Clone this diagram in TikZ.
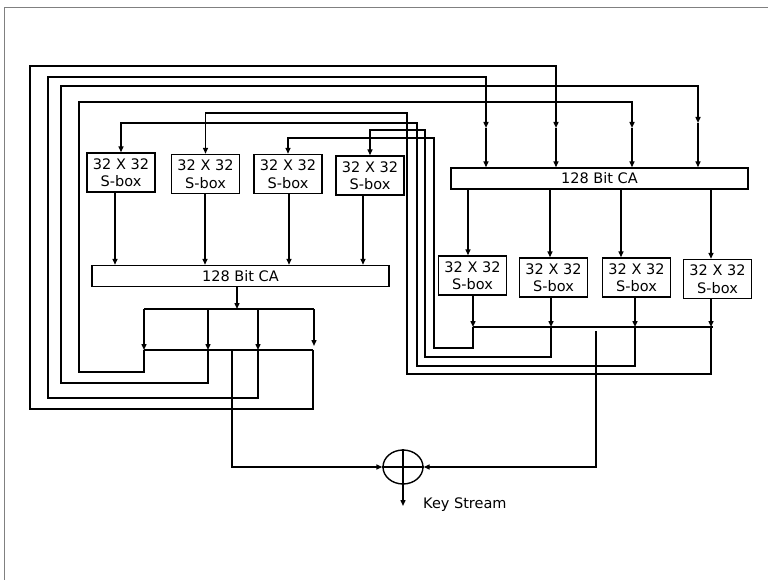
\documentclass[tikz,border=0pt]{standalone}
\usepackage{fontspec}
\setmainfont{DejaVu Sans}
\usetikzlibrary{arrows.meta,shapes.geometric}
\begin{document}
\begin{tikzpicture}[x=1pt,y=-1pt,
  wire/.style={line width=1.4pt},
  arr/.style={wire,-{Triangle[length=6pt,width=5pt]}},
  sbox/.style={draw,line width=1.4pt,minimum width=68pt,minimum height=39pt,inner sep=0pt,align=center,font=\fontsize{14.5}{17.5}\selectfont},
  cabox/.style={draw,line width=1.4pt,minimum width=297pt,minimum height=21pt,inner sep=0pt,font=\fontsize{14.5}{16}\selectfont},
  frame/.style={draw=gray,line width=0.8pt}]
\useasboundingbox (0,0) rectangle (768,580);
\draw[frame] (4.5,600) -- (4.5,7) -- (790,7);
% left S-boxes
\node[sbox] (L1) at (121,172.5) {32 X 32\\S-box};
\node[sbox] (L2) at (205.5,174) {32 X 32\\S-box};
\node[sbox] (L3) at (288,174) {32 X 32\\S-box};
\node[sbox] (L4) at (370,175.5) {32 X 32\\S-box};
% CAs
\node[cabox] (LCA) at (240.5,276) {128 Bit CA};
\node[cabox] (RCA) at (599.5,178.5) {128 Bit CA};
% right S-boxes
\node[sbox] (R1) at (472.5,275.5) {32 X 32\\S-box};
\node[sbox] (R2) at (553.5,277.5) {32 X 32\\S-box};
\node[sbox] (R3) at (636.5,277.5) {32 X 32\\S-box};
\node[sbox] (R4) at (717.5,279) {32 X 32\\S-box};
% XOR
\node[ellipse,draw,line width=1.4pt,minimum width=40pt,minimum height=34pt,inner sep=0pt] (X) at (403,467) {};
\draw[wire] (X.north) -- (X.south) (X.west) -- (X.east);
\coordinate (ks) at (403,506);
\draw[arr] (X.south) -- (ks);
\node[anchor=west,inner sep=0pt,font=\fontsize{14.5}{16}\selectfont] (kst) at (423,505) {Key Stream};
% left S-box outputs into left CA
\coordinate (l1) at (115,0);
\coordinate (l2) at (205,0);
\coordinate (l3) at (289,0);
\coordinate (l4) at (363,0);
\draw[arr] (L1.south -| l1) -- (LCA.north -| l1);
\draw[arr] (L2.south -| l2) -- (LCA.north -| l2);
\draw[arr] (L3.south -| l3) -- (LCA.north -| l3);
\draw[arr] (L4.south -| l4) -- (LCA.north -| l4);
% distributor under left CA
\coordinate (d0) at (237,309);
\draw[arr] (LCA.south -| d0) -- (d0);
\coordinate (b1) at (144,309);
\coordinate (b2) at (208,309);
\coordinate (b3) at (258,309);
\coordinate (b4) at (314,309);
\coordinate (m1) at (144,350);
\coordinate (m2) at (208,350);
\coordinate (m3) at (258,350);
\coordinate (m4) at (313,350);
\draw[wire] (b1) -- (b4);
\draw[arr] (b1) -- (m1);
\draw[arr] (b2) -- (m2);
\draw[arr] (b3) -- (m3);
\draw[arr] (b4) -- (314,346);
\draw[wire] (m1) -- (m4);
% feedback from left to right CA
\coordinate (q1) at (486,128);
\coordinate (q2) at (556,128);
\coordinate (q3) at (632,128);
\coordinate (q4) at (698,123);
\draw[arr] (m1) |- (79,372) |- (632,102) -- (q3);
\draw[arr] (m2) |- (61,383) |- (698,86) -- (q4);
\draw[arr] (m3) |- (48,398) |- (486,77) -- (q1);
\draw[arr] (m4) |- (30,409) |- (556,66) -- (q2);
\draw[arr] (q1) -- (RCA.north -| q1);
\draw[arr] (q2) -- (RCA.north -| q2);
\draw[arr] (q3) -- (RCA.north -| q3);
\draw[arr] (q4) -- (RCA.north -| q4);
% right CA to right S-boxes
\coordinate (r1) at (468,0);
\coordinate (r2) at (550,0);
\coordinate (r3) at (621,0);
\coordinate (r4) at (711,0);
\draw[arr] (RCA.south -| r1) -- (R1.north -| r1);
\draw[arr] (RCA.south -| r2) -- (R2.north -| r2);
\draw[arr] (RCA.south -| r3) -- (R3.north -| r3);
\draw[arr] (RCA.south -| r4) -- (R4.north -| r4);
% right S-box outputs
\coordinate (o1) at (473,327);
\coordinate (o2) at (551,327);
\coordinate (o3) at (635,327);
\coordinate (o4) at (711,327);
\draw[arr] (R1.south -| o1) -- (o1);
\draw[arr] (R2.south -| o2) -- (o2);
\draw[arr] (R3.south -| o3) -- (o3);
\draw[arr] (R4.south -| o4) -- (o4);
\draw[wire] (o1) -- (713,327);
% feedback from right to left S-boxes
\draw[arr] (o1) |- (434,348) |- (288,138) -- (L3.north);
\draw[arr] (o2) |- (425,357) |- (370,130) -- (L4.north);
\draw[arr] (o3) |- (417,366) |- (121,123) -- (L1.north);
\draw[arr] (o4) |- (407,374) |- (205.5,113) -- (L2.north);
% into XOR
\coordinate (c1) at (232,350);
\coordinate (c2) at (596,331);
\draw[arr] (c1) |- (X.west);
\draw[arr] (c2) |- (X.east);
\end{tikzpicture}
\end{document}
